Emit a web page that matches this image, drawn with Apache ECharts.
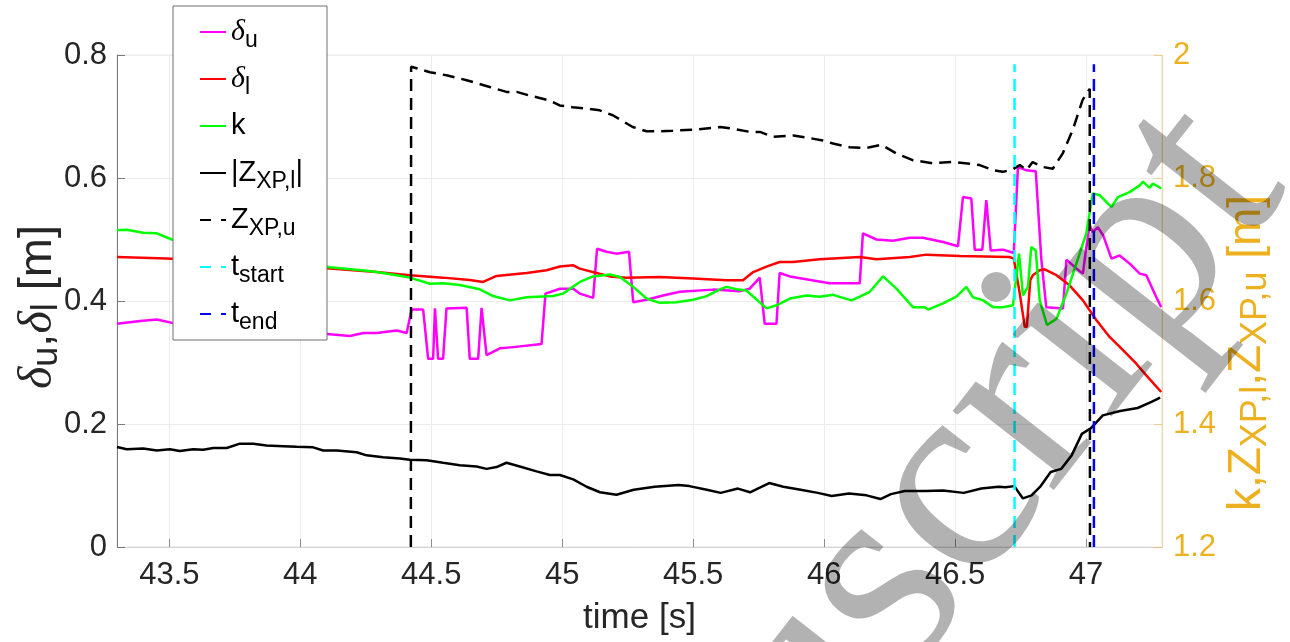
<!DOCTYPE html>
<html>
<head>
<meta charset="utf-8">
<script src="https://cdn.jsdelivr.net/npm/echarts@6/dist/echarts.min.js"></script>
<style>
  html, body { margin: 0; padding: 0; background: #ffffff; }
  #chart { width: 1290px; height: 642px; }
</style>
</head>
<body>
<div id="chart"></div>
<script>
// ---- measured signals ----
// upper gap delta_u [m] (left axis)
const tDeltaU = [43.300,43.388,43.452,43.515,43.808,44.113,44.189,44.240,44.291,44.368,44.406,44.425,44.469,44.488,44.507,44.514,44.526,44.545,44.558,44.635,44.647,44.679,44.692,44.711,44.762,44.813,44.921,44.936,44.991,45.042,45.067,45.118,45.133,45.169,45.207,45.255,45.271,45.322,45.385,45.449,45.576,45.678,45.716,45.754,45.773,45.818,45.830,45.869,46.021,46.136,46.148,46.200,46.263,46.327,46.377,46.454,46.511,46.530,46.562,46.575,46.604,46.619,46.636,46.683,46.724,46.740,46.772,46.808,46.829,46.836,46.848,46.912,46.925,46.963,46.988,47.001,47.014,47.026,47.045,47.065,47.097,47.128,47.166,47.205,47.230,47.268,47.287];
const deltaU = [0.363,0.3675,0.370,0.364,0.355,0.346,0.343,0.348,0.348,0.352,0.348,0.386,0.386,0.306,0.306,0.388,0.306,0.306,0.388,0.389,0.306,0.306,0.389,0.312,0.323,0.325,0.330,0.412,0.420,0.420,0.412,0.405,0.485,0.480,0.477,0.480,0.398,0.402,0.409,0.415,0.4185,0.416,0.420,0.438,0.363,0.363,0.4455,0.440,0.429,0.429,0.510,0.500,0.498,0.503,0.503,0.496,0.489,0.569,0.5665,0.4835,0.4835,0.564,0.482,0.4835,0.478,0.618,0.6125,0.611,0.469,0.470,0.390,0.388,0.467,0.453,0.4445,0.488,0.523,0.512,0.520,0.507,0.469,0.474,0.461,0.4445,0.442,0.4065,0.390];

// lower gap delta_l [m] (left axis)
const tDeltaL = [43.300,43.490,43.770,44.113,44.291,44.418,44.545,44.647,44.698,44.749,44.864,44.940,44.991,45.042,45.067,45.131,45.182,45.245,45.373,45.500,45.627,45.690,45.729,45.780,45.830,45.881,45.983,46.136,46.200,46.327,46.390,46.518,46.708,46.724,46.747,46.766,46.774,46.787,46.797,46.823,46.842,46.887,46.937,46.988,47.039,47.090,47.141,47.192,47.230,47.287];
const deltaL = [0.4715,0.469,0.462,0.4527,0.447,0.442,0.438,0.434,0.431,0.4407,0.4455,0.450,0.456,0.458,0.4527,0.4455,0.440,0.438,0.439,0.4364,0.4337,0.4337,0.447,0.456,0.4634,0.4634,0.468,0.4715,0.468,0.4715,0.4754,0.473,0.4715,0.469,0.412,0.358,0.358,0.434,0.442,0.450,0.4515,0.442,0.4255,0.401,0.369,0.3415,0.320,0.298,0.279,0.252];

// elongation k (right axis)
const tK = [43.300,43.337,43.400,43.452,43.509,43.808,44.113,44.253,44.291,44.368,44.418,44.495,44.545,44.609,44.685,44.736,44.800,44.864,44.965,45.003,45.067,45.118,45.182,45.220,45.271,45.322,45.373,45.436,45.500,45.551,45.602,45.627,45.665,45.703,45.754,45.780,45.818,45.869,45.932,45.983,46.034,46.104,46.136,46.174,46.225,46.276,46.339,46.384,46.397,46.454,46.505,46.543,46.568,46.607,46.645,46.683,46.721,46.744,46.759,46.778,46.791,46.808,46.823,46.851,46.887,46.925,46.963,47.001,47.026,47.052,47.077,47.097,47.122,47.166,47.205,47.217,47.243,47.255,47.287];
const kVal = [1.715,1.716,1.711,1.710,1.700,1.677,1.655,1.649,1.647,1.642,1.638,1.628,1.629,1.626,1.619,1.608,1.601,1.606,1.608,1.612,1.631,1.640,1.643,1.639,1.623,1.604,1.597,1.598,1.602,1.608,1.619,1.623,1.619,1.617,1.598,1.588,1.593,1.604,1.609,1.607,1.610,1.601,1.607,1.615,1.640,1.620,1.590,1.590,1.586,1.596,1.607,1.623,1.606,1.601,1.590,1.590,1.593,1.677,1.609,1.623,1.688,1.682,1.601,1.561,1.571,1.612,1.661,1.710,1.775,1.772,1.761,1.753,1.769,1.777,1.788,1.794,1.784,1.791,1.783];

// |Z_XP,l| [m] (left axis)
const tZl = [43.300,43.337,43.400,43.452,43.502,43.540,43.591,43.629,43.668,43.719,43.769,43.820,43.871,43.935,43.986,44.049,44.087,44.139,44.215,44.253,44.316,44.380,44.418,44.482,44.545,44.609,44.673,44.711,44.749,44.787,44.838,44.902,44.953,44.991,45.042,45.093,45.144,45.207,45.273,45.353,45.445,45.485,45.552,45.605,45.671,45.717,45.790,45.844,45.910,45.976,46.029,46.095,46.162,46.215,46.255,46.308,46.387,46.454,46.533,46.600,46.666,46.692,46.726,46.759,46.792,46.825,46.865,46.905,46.945,46.984,47.018,47.064,47.130,47.197,47.250,47.283];
const zl = [0.1626,0.159,0.160,0.157,0.159,0.156,0.159,0.158,0.161,0.161,0.168,0.168,0.165,0.164,0.163,0.162,0.157,0.157,0.154,0.149,0.146,0.144,0.142,0.141,0.137,0.133,0.131,0.127,0.130,0.137,0.131,0.123,0.117,0.117,0.110,0.098,0.089,0.085,0.093,0.098,0.101,0.099,0.093,0.088,0.095,0.089,0.104,0.098,0.093,0.088,0.083,0.087,0.084,0.078,0.086,0.091,0.091,0.092,0.088,0.095,0.098,0.097,0.099,0.079,0.084,0.098,0.122,0.127,0.149,0.184,0.193,0.214,0.221,0.226,0.236,0.243];

// Z_XP,u [m] (right axis); the track drops to the axis floor where it is undefined
const tZu = [44.422,44.423,44.495,44.558,44.635,44.723,44.787,44.826,44.876,44.952,44.990,45.040,45.093,45.143,45.193,45.269,45.322,45.373,45.422,45.513,45.603,45.652,45.717,45.755,45.805,45.882,45.956,45.995,46.034,46.098,46.161,46.219,46.276,46.338,46.415,46.491,46.556,46.594,46.644,46.682,46.720,46.747,46.773,46.796,46.834,46.873,46.911,46.949,46.987,47.014,47.015];
const zu = [1.2,1.981,1.972,1.967,1.959,1.948,1.940,1.940,1.934,1.926,1.918,1.915,1.913,1.910,1.902,1.883,1.876,1.876,1.877,1.879,1.883,1.880,1.875,1.875,1.867,1.869,1.864,1.861,1.856,1.850,1.849,1.854,1.840,1.829,1.824,1.826,1.823,1.821,1.813,1.810,1.814,1.821,1.813,1.826,1.818,1.815,1.840,1.878,1.927,1.945,1.2];

// event markers [s] and their drawn height on the left axis [m]
const tStart = 46.727;
const tEnd = 47.030;
const markerSpan = [0, 0.785];

// axis ranges / ticks
const xRange = [43.3, 47.29];
const yLeftRange = [0, 0.8];
const yRightRange = [1.2, 2.0];
const yStep = 0.2;

const zip = (t, v) => t.map((x, i) => [x, v[i]]);

const FONT = '"Liberation Sans", Arial, Helvetica, sans-serif';
const GREEK = '"Liberation Serif", "DejaVu Serif", serif';
const ORANGE = '#EDB120';
const DARK = '#262626';
const DASH = [12, 7];

function richSet(main, sub, lh) {
  return {
    g: { fontFamily: GREEK, fontStyle: 'italic', fontSize: main + 1, lineHeight: lh },
    s: { fontFamily: FONT, fontSize: sub, lineHeight: Math.round(sub * 0.7), verticalAlign: 'bottom' }
  };
}

const legendLabels = {
  'du': '{g|δ}{s|u}',
  'dl': '{g|δ}{s|l}',
  'k': 'k',
  'Zl': '|Z{s|XP,l}|',
  'Zu': 'Z{s|XP,u}',
  'ts': 't{s|start}',
  'te': 't{s|end}'
};

const chart = echarts.init(document.getElementById('chart'), null, { renderer: 'canvas' });

const lineBase = { type: 'line', showSymbol: false, symbol: 'none', smooth: false, animation: false, silent: true };
const legendDash = { type: [11, 10] };

chart.setOption({
  animation: false,
  backgroundColor: '#ffffff',
  textStyle: { fontFamily: FONT },
  grid: {
    left: 117, right: 128, top: 55, bottom: 95,
    show: true, borderColor: '#e4e4e4', borderWidth: 1,
    outerBoundsMode: 'none'
  },
  legend: {
    orient: 'vertical',
    left: 173, top: 6,
    padding: [6, 24, 6, 26],
    itemWidth: 26, itemHeight: 12, itemGap: 7,
    backgroundColor: '#ffffff',
    borderColor: '#6e6e6e', borderWidth: 1, borderRadius: 0,
    itemStyle: { opacity: 0, borderWidth: 0 },
    data: [
      { name: 'du' }, { name: 'dl' }, { name: 'k' }, { name: 'Zl' },
      { name: 'Zu', lineStyle: legendDash },
      { name: 'ts', lineStyle: legendDash },
      { name: 'te', lineStyle: legendDash }
    ],
    formatter: name => legendLabels[name],
    textStyle: {
      fontFamily: FONT, fontSize: 29, color: '#000000', lineHeight: 40,
      rich: richSet(29, 23, 40)
    }
  },
  xAxis: {
    type: 'value',
    min: xRange[0], max: xRange[1],
    splitNumber: 8,
    name: 'time [s]',
    nameLocation: 'middle',
    nameGap: 54,
    nameMoveOverlap: false,
    nameTextStyle: { fontFamily: FONT, fontSize: 35, color: DARK },
    axisLine: { show: true, onZero: false, lineStyle: { color: '#d2d2d2', width: 1 } },
    axisTick: { show: true, inside: true, length: 8, lineStyle: { color: '#8c8c8c' } },
    axisLabel: { fontFamily: FONT, fontSize: 31, color: DARK, margin: 13, showMinLabel: false, showMaxLabel: false },
    splitLine: { show: true, lineStyle: { color: '#ececec', width: 1 } }
  },
  yAxis: [
    {
      type: 'value',
      min: yLeftRange[0], max: yLeftRange[1], interval: yStep,
      position: 'left',
      name: '{g|δ}{s|u},{g|δ}{s|l} [m]',
      nameLocation: 'middle',
      nameRotate: 90,
      nameGap: 52,
      nameMoveOverlap: false,
      nameTextStyle: { fontFamily: FONT, fontSize: 47, color: DARK, lineHeight: 54, padding: [0, 12, 0, 0], rich: richSet(47, 36, 54) },
      axisLine: { show: true, lineStyle: { color: '#7a7a7a', width: 1 } },
      axisTick: { show: true, inside: true, length: 8, lineStyle: { color: '#7a7a7a' } },
      axisLabel: { fontFamily: FONT, fontSize: 31, color: DARK, margin: 10 },
      splitLine: { show: true, lineStyle: { color: '#ececec', width: 1 } }
    },
    {
      type: 'value',
      min: yRightRange[0], max: yRightRange[1], interval: yStep,
      position: 'right',
      name: 'k,Z{s|XP,l},Z{s|XP,u} [m]',
      nameLocation: 'middle',
      nameRotate: 90,
      nameGap: 58,
      nameMoveOverlap: false,
      nameTextStyle: { fontFamily: FONT, fontSize: 46, color: ORANGE, lineHeight: 54, padding: [0, 104, 0, 0], rich: richSet(46, 36, 54) },
      axisLine: { show: true, lineStyle: { color: 'rgba(237,177,32,0.35)', width: 1 } },
      axisTick: { show: true, inside: true, length: 8, lineStyle: { color: 'rgba(237,177,32,0.5)' } },
      axisLabel: { fontFamily: FONT, fontSize: 31, color: ORANGE, margin: 11 },
      splitLine: { show: false }
    }
  ],
  series: [
    Object.assign({}, lineBase, { name: 'du', yAxisIndex: 0, data: zip(tDeltaU, deltaU), lineStyle: { color: '#ff00ff', width: 2.5 }, itemStyle: { color: '#ff00ff' } }),
    Object.assign({}, lineBase, { name: 'dl', yAxisIndex: 0, data: zip(tDeltaL, deltaL), lineStyle: { color: '#ff0000', width: 2.5 }, itemStyle: { color: '#ff0000' } }),
    Object.assign({}, lineBase, { name: 'k', yAxisIndex: 1, data: zip(tK, kVal), lineStyle: { color: '#00ff00', width: 2.5 }, itemStyle: { color: '#00ff00' } }),
    Object.assign({}, lineBase, { name: 'Zl', yAxisIndex: 0, data: zip(tZl, zl), lineStyle: { color: '#000000', width: 2.5 }, itemStyle: { color: '#000000' } }),
    Object.assign({}, lineBase, { name: 'Zu', yAxisIndex: 1, data: zip(tZu, zu), lineStyle: { color: '#000000', width: 2.5, type: DASH }, itemStyle: { color: '#000000' } }),
    Object.assign({}, lineBase, { name: 'ts', yAxisIndex: 0, data: markerSpan.map(v => [tStart, v]), lineStyle: { color: '#00ffff', width: 2.5, type: DASH }, itemStyle: { color: '#00ffff' } }),
    Object.assign({}, lineBase, { name: 'te', yAxisIndex: 0, data: markerSpan.map(v => [tEnd, v]), lineStyle: { color: '#0000ff', width: 2.5, type: DASH }, itemStyle: { color: '#0000ff' } })
  ],
  graphic: [
    {
      // diagonal manuscript watermark laid over the figure
      type: 'text',
      x: 557, y: 1234,
      rotation: 52 * Math.PI / 180,
      z: 100,
      silent: true,
      style: {
        text: 'Manuscript',
        fontSize: 280,
        fontFamily: GREEK,
        fill: 'rgba(0,0,0,0.3)',
        textAlign: 'left',
        textVerticalAlign: 'bottom'
      }
    }
  ]
});
</script>
</body>
</html>
